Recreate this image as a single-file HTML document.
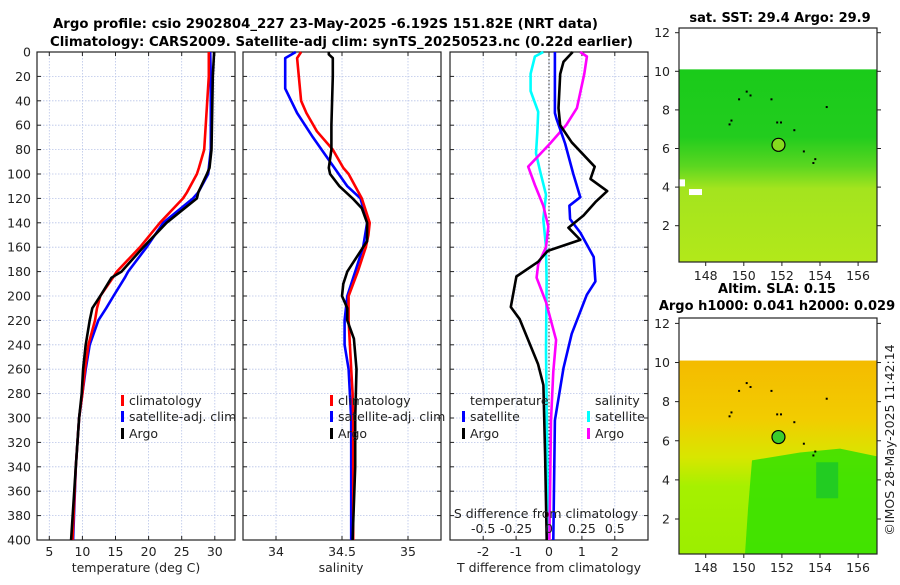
<!DOCTYPE html>
<html><head><meta charset="utf-8"><style>
body{margin:0;background:#fff}
svg text{font-family:"DejaVu Sans","Liberation Sans",sans-serif;fill:#222}
.t{font-size:12.5px}
.b{font-weight:bold;font-size:13px;fill:#000}
</style></head><body>
<svg id="c" width="900" height="580" viewBox="0 0 900 580" xmlns="http://www.w3.org/2000/svg">
<defs>
<linearGradient id="sstg" x1="0" y1="0" x2="0" y2="1">
<stop offset="0" stop-color="#1acb1a"/><stop offset="0.35" stop-color="#22cc1e"/><stop offset="0.5" stop-color="#5ad620"/><stop offset="0.62" stop-color="#a4e41e"/><stop offset="1" stop-color="#b2e81a"/>
</linearGradient>
<linearGradient id="slag" x1="0" y1="0" x2="0" y2="1">
<stop offset="0" stop-color="#f4bb00"/><stop offset="0.3" stop-color="#f2cc00"/><stop offset="0.5" stop-color="#d8e600"/><stop offset="0.65" stop-color="#a6f000"/><stop offset="1" stop-color="#9cee00"/>
</linearGradient>
</defs>
<text class="b" x="53" y="28" textLength="545" lengthAdjust="spacingAndGlyphs">Argo profile: csio 2902804_227 23-May-2025 -6.192S 151.82E (NRT data)</text>
<text class="b" x="50" y="46" textLength="583" lengthAdjust="spacingAndGlyphs">Climatology: CARS2009. Satellite-adj clim: synTS_20250523.nc (0.22d earlier)</text>
<g id="plots"></g>
</svg>
<script>
// ---- data ----
const tDepth = [0,20,80,95,100,115,120,140,160,180,185,200,210,220,240,260,280,300,340,400];
const tClim  = [29.1,29.1,28.4,27.6,27.3,25.8,25.2,21.7,18.7,15.2,14.6,12.7,12.2,11.9,10.9,10.4,10.0,9.5,9.0,8.5];
const tSat   = [29.3,29.4,29.4,29.1,29.0,27.5,26.7,22.2,19.7,16.9,16.4,14.7,13.6,12.4,11.1,10.5,10.0,9.5,9.0,8.6];
const tArgo  = [29.9,29.7,29.5,29.2,28.8,27.5,27.3,22.7,19.2,15.9,14.4,12.7,11.5,11.1,10.5,10.1,9.9,9.5,9.0,8.3];
const sClimDepth = [0,5,40,50,65,80,95,100,120,140,150,160,180,200,220,240,260,280,300,400];
const sClim = [34.19,34.16,34.19,34.23,34.31,34.43,34.51,34.55,34.65,34.71,34.70,34.68,34.62,34.55,34.55,34.56,34.57,34.58,34.585,34.585];
const sSatDepth = [0,5,30,50,70,90,110,120,140,160,180,200,220,240,260,300,400];
const sSat = [34.15,34.07,34.07,34.16,34.28,34.41,34.54,34.64,34.69,34.66,34.60,34.54,34.52,34.52,34.55,34.57,34.57];
const sArgoDepth = [0,2,5,20,60,80,95,100,110,120,128,140,155,160,180,190,200,210,220,235,260,300,340,400];
const sArgo = [34.40,34.40,34.43,34.43,34.42,34.42,34.40,34.41,34.48,34.58,34.65,34.69,34.69,34.66,34.54,34.51,34.50,34.54,34.54,34.59,34.61,34.60,34.60,34.58];
const dArgoTDepth = [0,8,18,46,60,74,94,104,114,123,134,144,154,163,172,184,209,219,256,273,330,400];
const dArgoT = [0.72,0.44,0.34,0.29,0.34,0.69,1.39,1.26,1.77,1.41,1.05,0.59,0.95,-0.04,-0.33,-0.99,-1.16,-0.89,-0.33,-0.17,-0.12,-0.07];
const dSatTDepth = [0,50,55,75,100,119,126,137,148,168,188,199,231,259,302,400];
const dSatT = [0.18,0.18,0.23,0.49,0.74,0.95,0.62,0.64,0.95,1.36,1.41,1.15,0.69,0.44,0.18,0.13];
const dSatSDepth = [0,3.7,17.9,32,49,66,83,97,117,137,160,188,245,400];
const dSatS = [-0.043,-0.107,-0.14,-0.14,-0.082,-0.089,-0.099,-0.069,-0.023,-0.043,-0.023,-0.018,-0.023,-0.005];
const dArgoSDepth = [0,3.7,17.9,46,60,75,94,109,126,143,160,174,185,205,236,262,302,400];
const dArgoS = [0.237,0.288,0.268,0.212,0.130,0.008,-0.158,-0.107,-0.043,-0.005,-0.023,-0.082,-0.094,-0.023,0.054,0.033,0.015,0.003];
const depthTicks = [0,20,40,60,80,100,120,140,160,180,200,220,240,260,280,300,320,340,360,380,400];
const tTicks = [5,10,15,20,25,30];
const sTicks = [34,34.5,35];
const dTTicks = [-2,-1,0,1,2];
const dSTicks = [-0.5,-0.25,0,0.25,0.5];
const dSTickLabels = ['-0.5','-0.25','0','0.25','0.5'];
const lonTicks = [148,150,152,154,156];
const latTicks = [2,4,6,8,10,12];
const argoLon = 151.82, argoLat = 6.19;

const NS='http://www.w3.org/2000/svg';
const G=document.getElementById('plots');
function mk(tag,attrs,parent){const e=document.createElementNS(NS,tag);for(const k in attrs)e.setAttribute(k,attrs[k]);(parent||G).appendChild(e);return e;}
function txt(x,y,s,anchor,cls,parent){const e=mk('text',{x:x,y:y,'text-anchor':anchor||'middle','class':cls||'t'},parent);e.textContent=s;return e;}

const Y0=52,Y1=540;
const yD=d=>Y0+(d/400)*(Y1-Y0);
const xT=t=>49.3+(t-5)*6.62;
const xS=s=>276+(s-34)*132;
const xDT=t=>549+t*32.9;
const xDS=s=>549+s*4*32.9;

function panel(x0,x1,xticks,xf,name){
  const g=mk('g',{});
  
  
  xticks.forEach(v=>{const x=xf(v);mk('line',{x1:x,x2:x,y1:Y0,y2:Y1,stroke:'#b8c4e8','stroke-width':0.8,'stroke-dasharray':'1.5,1.5'},g);
    mk('line',{x1:x,x2:x,y1:Y1,y2:Y1-4,stroke:'#222'},g);mk('line',{x1:x,x2:x,y1:Y0,y2:Y0+4,stroke:'#222'},g);});
  depthTicks.forEach(d=>{const y=yD(d);mk('line',{x1:x0,x2:x1,y1:y,y2:y,stroke:'#b8c4e8','stroke-width':0.8,'stroke-dasharray':'1.5,1.5'},g);
    mk('line',{x1:x0,x2:x0+4,y1:y,y2:y,stroke:'#222'},g);mk('line',{x1:x1-4,x2:x1,y1:y,y2:y,stroke:'#222'},g);});
  mk('rect',{x:x0,y:Y0,width:x1-x0,height:Y1-Y0,fill:'none',stroke:'#222','stroke-width':1.2},g);
  return g;
}
function line(depths,vals,xf,color,name,parent,dash){
  const pts=depths.map((d,i)=>xf(vals[i]).toFixed(1)+','+yD(d).toFixed(1)).join(' ');
  const p=mk('polyline',{points:pts,fill:'none',stroke:color,'stroke-width':2.6,'stroke-linejoin':'round'},parent);
  if(dash)p.setAttribute('stroke-dasharray',dash);
  
  
}

// panel 1
const p1=panel(37,235,tTicks,xT,'temperature-panel');
depthTicks.forEach(d=>txt(31,yD(d)+4.5,String(d),'end','t',p1));
tTicks.forEach(v=>txt(xT(v),556,String(v),'middle','t',p1));
txt(136,572,'temperature (deg C)','middle','t',p1);
line(tDepth,tSat,xT,'#0000ff','temp-satellite-line',p1);
line(tDepth,tClim,xT,'#ff0000','temp-climatology-line',p1);
line(tDepth,tArgo,xT,'#000000','temp-argo-line',p1);
// panel 2
const p2=panel(243,441,sTicks,xS,'salinity-panel');
sTicks.forEach(v=>txt(xS(v),556,String(v),'middle','t',p2));
txt(341,572,'salinity','middle','t',p2);
line(sSatDepth,sSat,xS,'#0000ff','sal-satellite-line',p2);
line(sClimDepth,sClim,xS,'#ff0000','sal-climatology-line',p2);
line(sArgoDepth,sArgo,xS,'#000000','sal-argo-line',p2);
// panel 3
const p3=panel(450,648,dTTicks,xDT,'difference-panel');
mk('line',{x1:xDT(0),x2:xDT(0),y1:Y0,y2:Y1,stroke:'#333','stroke-width':1,'stroke-dasharray':'1.5,2'},p3);
dTTicks.forEach(v=>txt(xDT(v),556,String(v),'middle','t',p3));
txt(549,572,'T difference from climatology','middle','t',p3);
line(dSatSDepth,dSatS,xDS,'#00ffff','sal-diff-satellite-line',p3);
line(dArgoSDepth,dArgoS,xDS,'#ff00ff','sal-diff-argo-line',p3);
line(dSatTDepth,dSatT,xDT,'#0000ff','temp-diff-satellite-line',p3);
line(dArgoTDepth,dArgoT,xDT,'#000000','temp-diff-argo-line',p3);
txt(546,518,'S difference from climatology','middle','t',p3);
dSTicks.forEach((v,i)=>txt(xDS(v),533,dSTickLabels[i],'middle','t',p3));

// legends
function leg(x,y,color,label,name){
  const g=mk('g',{});
  
  
  mk('rect',{x:x,y:y-10,width:3,height:11,fill:color},g);
  txt(x+8,y,label,'start','t',g);
}
leg(121,405,'#ff0000','climatology','legend-temp-climatology');
leg(121,421,'#0000ff','satellite-adj. clim','legend-temp-satellite');
leg(121,438,'#000000','Argo','legend-temp-argo');
leg(330,405,'#ff0000','climatology','legend-sal-climatology');
leg(330,421,'#0000ff','satellite-adj. clim','legend-sal-satellite');
leg(330,438,'#000000','Argo','legend-sal-argo');
txt(470,405,'temperature','start','t');
leg(462,421,'#0000ff','satellite','legend-diff-temp-satellite');
leg(462,438,'#000000','Argo','legend-diff-temp-argo');
txt(595,405,'salinity','start','t');
leg(587,421,'#00ffff','satellite','legend-diff-sal-satellite');
leg(587,438,'#ff00ff','Argo','legend-diff-sal-argo');

// maps
const MX0=679,MX1=877;
const xLon=l=>705.7+(l-148)*19.05;
function map(top,bottom,y12,pxPerDeg,fill,title1,title2,name,circleFill,extra){
  const g=mk('g',{});
  
  
  const yLat=l=>y12+(12-l)*pxPerDeg;
  mk('rect',{x:MX0,y:yLat(10.1),width:MX1-MX0,height:bottom-yLat(10.1),fill:fill},g);
  if(extra)extra(g,yLat);
  const isl=[[149.3,7.5],[149.7,8.6],[150.1,9.0],[150.3,8.8],[151.4,8.6],[151.7,7.4],[151.9,7.4],[152.6,7.0],[153.1,5.9],[153.7,5.5],[153.6,5.3],[154.3,8.2],[149.2,7.3]];
  isl.forEach(p=>mk('rect',{x:xLon(p[0]),y:yLat(p[1]),width:2,height:2,fill:'#000'},g));
  const c=mk('circle',{cx:xLon(argoLon),cy:yLat(argoLat),r:6.5,fill:circleFill,stroke:'#000','stroke-width':1.2},g);
  
  
  mk('rect',{x:MX0,y:top,width:MX1-MX0,height:bottom-top,fill:'none',stroke:'#222','stroke-width':1.2},g);
  latTicks.forEach(l=>{const y=yLat(l);mk('line',{x1:MX0-4,x2:MX0,y1:y,y2:y,stroke:'#222'},g);mk('line',{x1:MX1,x2:MX1+4,y1:y,y2:y,stroke:'#222'},g);txt(670,y+4.5,String(l),'end','t',g);});
  lonTicks.forEach(l=>{const x=xLon(l);mk('line',{x1:x,x2:x,y1:bottom,y2:bottom+4,stroke:'#222'},g);txt(x,bottom+18,String(l),'middle','t',g);});
  if(title2){txt(777,top-29+4,title1,'middle','b',g);txt(777,top-12+4,title2,'middle','b',g);}
  else txt(780,top-6,title1,'middle','b',g);
}
map(28,262,32.7,19.3,'url(#sstg)','sat. SST: 29.4 Argo: 29.9',null,'sst-map','#86dc1e',(g,yLat)=>{
  mk('rect',{x:MX0,y:yLat(4.4),width:6,height:7,fill:'#fff'},g);
  mk('rect',{x:689,y:yLat(3.9),width:13,height:6,fill:'#fff'},g);
});
map(318,554,323.4,19.56,'url(#slag)','Altim. SLA: 0.15','Argo h1000: 0.041 h2000: 0.029','sla-map','#3ccc2c',(g,yLat)=>{
  mk('path',{d:'M752 '+yLat(5)+' L800 '+yLat(5.4)+' L840 '+yLat(5.6)+' L877 '+yLat(5.2)+' L877 554 L745 554 L748 '+yLat(2.5)+' Z',fill:'#33e000',opacity:0.85},g);
  mk('rect',{x:xLon(153.8),y:yLat(4.9),width:22,height:36,fill:'#22cc22'},g);
});
const cp=txt(0,0,'©IMOS 28-May-2025 11:42:14','middle','t');
cp.setAttribute('transform','translate(894,440) rotate(-90)');


</script>
</body></html>
